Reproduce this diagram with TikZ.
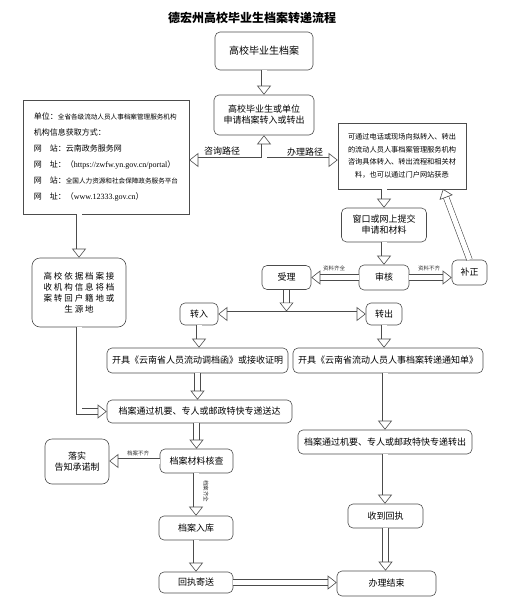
\documentclass[tikz,border=0pt]{standalone}
\usepackage{fontspec}
\setmainfont{Noto Sans CJK SC}
\newfontfamily\latfont{Liberation Serif}
\usetikzlibrary{calc}
\usetikzlibrary{arrows.meta}
\tikzset{%
  mybox/.style={draw=black!70, line width=0.6pt, rounded corners=5pt, align=center, inner sep=1pt, font=\fontsize{9}{11}\selectfont},
  sqbox/.style={draw=black!70, line width=0.6pt, inner sep=4pt},
  myedge/.style={draw=black!70, line width=0.6pt, double=white, double distance=5pt, -{Triangle[open, width=14pt, length=9pt]}},
  bothedge/.style={myedge, {Triangle[open, width=14pt, length=9pt]}-{Triangle[open, width=14pt, length=9pt]}},
  mylbl/.style={font=\fontsize{9}{11}\selectfont, inner sep=1pt},
  tinylbl/.style={font=\fontsize{5.5}{6}\selectfont, text=black!80, inner sep=1pt}
}

\begin{document}
\begin{tikzpicture}[x=1pt, y=-1pt]
  \useasboundingbox (0,0) rectangle (504,600);
  \node[font=\bfseries\fontsize{12}{14}\selectfont] (title) at (252,18) {德宏州高校毕业生档案转递流程};
  % top part
  \node[mybox, minimum width=98pt, minimum height=38pt, font=\fontsize{10}{12}\selectfont] (dang) at (264,51) {高校毕业生档案};
  \node[mybox, minimum width=100pt, minimum height=40pt] (shen) at (264,115) {高校毕业生或单位\\申请档案转入或转出};
  \node[sqbox, minimum width=166pt, minimum height=114pt, align=left, font=\fontsize{8}{16}\selectfont] (info) at (106,157)
    {单位：{\fontsize{6.6}{16}\selectfont 全省各级流动人员人事档案管理服务机构}\\
     机构信息获取方式：\\
     网　站：云南政务服务网\\
     网　址：（{\latfont https://zwfw.yn.gov.cn/portal}）\\
     网　站：{\fontsize{6.6}{16}\selectfont 全国人力资源和社会保障政务服务平台}\\
     网　址：（{\latfont www.12333.gov.cn}）};
  \node[sqbox, minimum width=128pt, minimum height=66pt, align=center, font=\fontsize{7.2}{12.5}\selectfont] (zixun) at (402,156)
    {可通过电话或现场向拟转入、转出\\的流动人员人事档案管理服务机构\\咨询具体转入、转出流程和相关材\\料，也可以通过门户网站获悉};
  \coordinate (hub) at (264,157.5);
  \draw[bothedge] (info.east |- 0,160) -- (zixun.west |- 0,160);
  \draw[myedge] (hub) -- (shen.south);
  \draw[myedge] (dang) -- (shen);
  \node[mylbl, above] (lzx) at (222,157) {咨询路径};
  \node[mylbl, above] (lbl) at (305,157) {办理路径};
  % handling path
  \node[mybox, minimum width=85pt, minimum height=34pt] (tijiao) at (384,225) {窗口或网上提交\\申请和材料};
  \node[mybox, minimum width=50pt, minimum height=25pt] (shenhe) at (384,277.5) {审核};
  \node[mybox, minimum width=49pt, minimum height=24pt] (shouli) at (286.5,277.5) {受理};
  \node[mybox, minimum width=35pt, minimum height=25pt] (buzheng) at (469.5,272.5) {补正};
  \coordinate (bzin) at (443,189);
  \draw[myedge] (tijiao.north |- zixun.south) -- (tijiao.north);
  \draw[myedge] (tijiao) -- (shenhe);
  \draw[myedge] (shenhe.west) -- (shouli.east);
  \draw[myedge] (shenhe.east) -- (buzheng.west |- shenhe.east);
  \draw[myedge] (buzheng.north) -- (bzin);
  \node[tinylbl, above] (qq) at (334,272) {资料齐全};
  \node[tinylbl, above] (bq) at (429,272) {资料不齐};
  % in / out
  \node[mybox, minimum width=38pt, minimum height=22pt] (zhuanru) at (199,314) {转入};
  \node[mybox, minimum width=36pt, minimum height=22pt] (zhuanchu) at (384,314) {转出};
  \coordinate (fork) at (shouli.south |- 0,311.5);
  \draw[bothedge] (zhuanru.east) -- (zhuanchu.west);
  \draw[myedge] (shouli.south) -- (fork);
  \node[mybox, minimum width=181pt, minimum height=25pt] (diaodang) at (197.5,360.5) {开具《云南省人员流动调档函》或接收证明};
  \node[mybox, minimum width=190pt, minimum height=25pt] (tongzhi) at (388,360.5) {开具《云南省流动人员人事档案转递通知单》};
  \draw[myedge] (zhuanru.south) -- (zhuanru.south |- diaodang.north);
  \draw[myedge] (zhuanchu.south) -- (zhuanchu.south |- tongzhi.north);
  % left column
  \node[mybox, minimum width=94pt, minimum height=69pt, rounded corners=8pt, font=\fontsize{8.5}{11}\selectfont] (huiji) at (79,292.5)
    {高 校 依 据 档 案 接\\收 机 构 信 息 将 档\\案 转 回 户 籍 地 或\\生 源 地};
  \draw[myedge] (info.south -| huiji.north) -- (huiji.north);
  \node[mybox, minimum width=185pt, minimum height=23pt] (songda) at (199.5,411.5) {档案通过机要、专人或邮政特快专递送达};
  \draw[myedge] (diaodang.south) -- (diaodang.south |- songda.north);
  \draw[myedge] (huiji.south) |- (songda.west);
  \node[mybox, minimum width=174pt, minimum height=24pt] (zhuanchu2) at (385,442) {档案通过机要、专人或邮政特快专递转出};
  \draw[myedge] (zhuanchu2.north |- tongzhi.south) -- (zhuanchu2.north);
  % check
  \node[mybox, minimum width=73pt, minimum height=24pt] (hecha) at (196.5,461) {档案材料核查};
  \node[mybox, minimum width=64pt, minimum height=45pt, rounded corners=7pt] (luoshi) at (77,461.5) {落实\\告知承诺制};
  \node[mybox, minimum width=74pt, minimum height=24pt] (ruku) at (196,528) {档案入库};
  \node[mybox, minimum width=74pt, minimum height=21pt] (huizhi) at (196,582.5) {回执寄送};
  \draw[myedge] (hecha.north |- songda.south) -- (hecha.north);
  \draw[myedge] (hecha.west) -- (luoshi.east |- hecha.west);
  \node[tinylbl, above] (dbq) at (138,457) {档案不齐};
  \draw[myedge] (ruku.north |- hecha.south) -- (ruku.north);
  \node[tinylbl, rotate=-90] (dqq) at (206,491) {档案齐全};
  \draw[myedge] (ruku) -- (huizhi);
  % end
  \node[mybox, minimum width=75pt, minimum height=24pt] (shoudao) at (385.5,516) {收到回执};
  \node[mybox, minimum width=99pt, minimum height=25pt] (jieshu) at (386.5,583.5) {办理结束};
  \draw[myedge] (zhuanchu2.south) -- (zhuanchu2.south |- shoudao.north);
  \draw[myedge] (shoudao.south) -- (shoudao.south |- jieshu.north);
  \draw[myedge] (huizhi.east) -- (jieshu.west |- huizhi.east);
\end{tikzpicture}
\end{document}
